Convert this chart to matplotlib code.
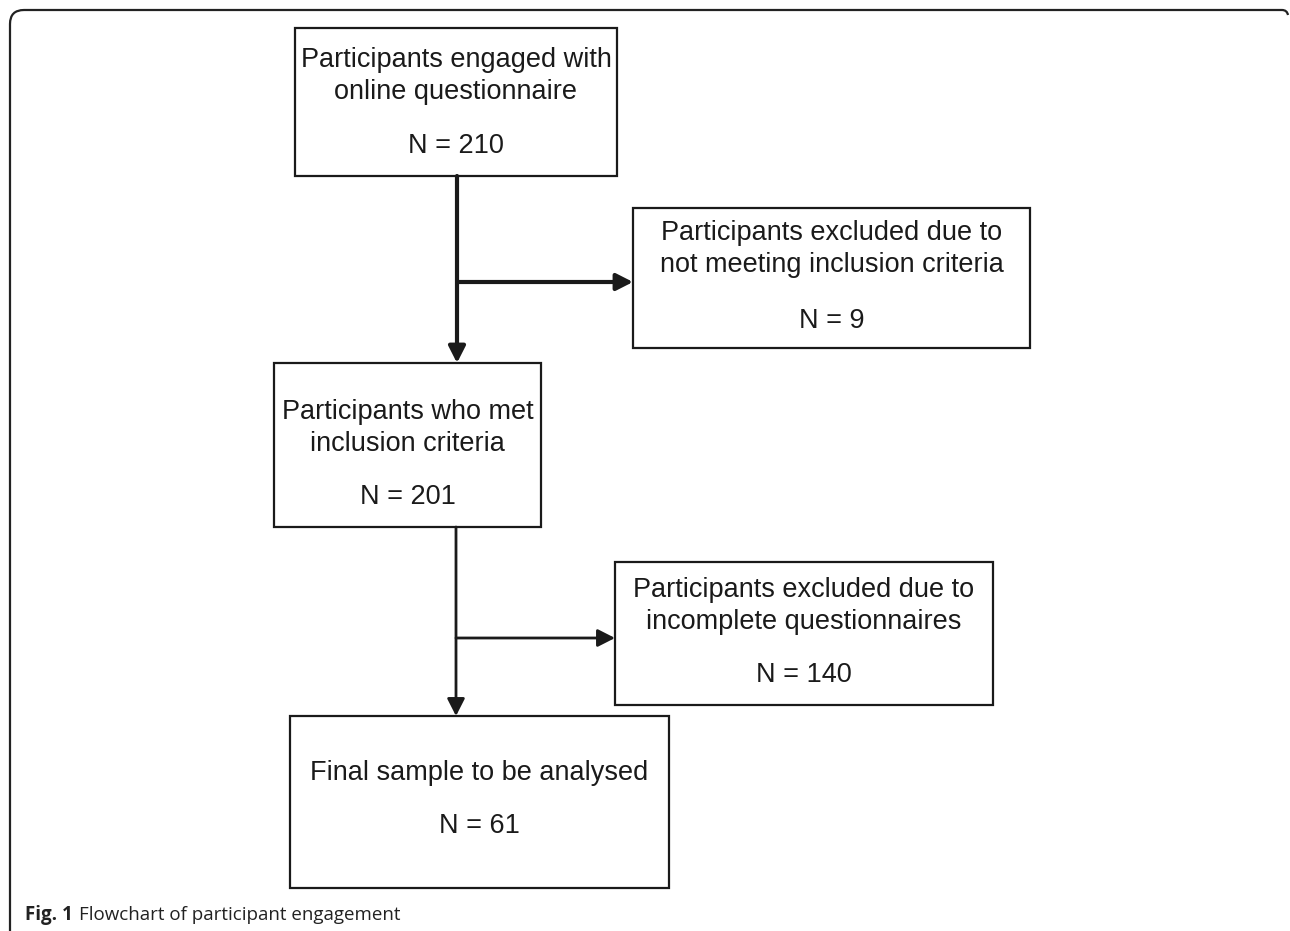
import matplotlib
matplotlib.use("Agg")
import matplotlib.pyplot as plt
from matplotlib.patches import Rectangle, FancyArrowPatch
from matplotlib.path import Path
from matplotlib.patches import PathPatch

# ---- data ----
box_titles = [
    "Participants engaged with\nonline questionnaire",
    "Participants excluded due to\nnot meeting inclusion criteria",
    "Participants who met\ninclusion criteria",
    "Participants excluded due to\nincomplete questionnaires",
    "Final sample to be analysed",
]
box_counts = [210, 9, 201, 140, 61]
caption_bold = "Fig. 1"
caption_text = "Flowchart of participant engagement"

# ---- layout (pixel coordinates) ----
W, H = 1290, 931
boxes = [  # x0, y0, x1, y1
    (295, 28, 617, 176),
    (633, 208, 1030, 348),
    (274, 363, 541, 527),
    (615, 562, 993, 705),
    (290, 716, 669, 888),
]
title_y = [76, 249, 428, 606, 773]
count_y = [146, 321, 497, 675, 826]

fig = plt.figure(figsize=(W / 100, H / 100), dpi=100)
ax = fig.add_axes([0, 0, 1, 1])
ax.set_xlim(0, W)
ax.set_ylim(H, 0)
ax.axis("off")

font = "Liberation Sans"
col = "#1a1a1a"
fs = 19.5

for (x0, y0, x1, y1), t, n, ty, cy in zip(boxes, box_titles, box_counts, title_y, count_y):
    ax.add_patch(Rectangle((x0, y0), x1 - x0, y1 - y0, fill=False,
                           edgecolor=col, linewidth=1.6))
    xc = (x0 + x1) / 2
    ax.text(xc, ty, t, ha="center", va="center", fontsize=fs, family=font,
            color=col, linespacing=1.32)
    ax.text(xc, cy, f"N = {n}", ha="center", va="center", fontsize=fs,
            family=font, color=col)

def arrow(p0, p1, lw, ms):
    a = FancyArrowPatch(p0, p1, arrowstyle="-|>,head_length=0.55,head_width=0.28",
                        mutation_scale=ms, linewidth=lw, color=col,
                        shrinkA=0, shrinkB=0)
    ax.add_patch(a)

# first stage (thick)
arrow((457, 176), (457, 363), 3.0, 18)
arrow((457, 282), (633, 282), 3.0, 18)
# second stage (thinner)
arrow((456, 527), (456, 716), 2.0, 19)
arrow((456, 638), (615, 638), 2.0, 19)

# outer frame
verts = [(10, 931), (10, 24), (10, 10), (24, 10), (1282, 10), (1287, 10), (1288, 15)]
codes = [Path.MOVETO, Path.LINETO, Path.CURVE3, Path.CURVE3, Path.LINETO, Path.CURVE3, Path.CURVE3]
ax.add_patch(PathPatch(Path(verts, codes), fill=False, edgecolor="#222222", linewidth=1.6))

# caption
t1 = ax.text(25, 915, caption_bold, ha="left", va="center", fontsize=13.5,
             family="Open Sans", fontweight="bold", color="#222222")
fig.canvas.draw()
bb = t1.get_window_extent()
x_end = bb.x1
ax.text(x_end + 6, 915, caption_text, ha="left", va="center", fontsize=13.5,
        family="Open Sans", color="#222222")

fig.savefig("out.png", dpi=100)
